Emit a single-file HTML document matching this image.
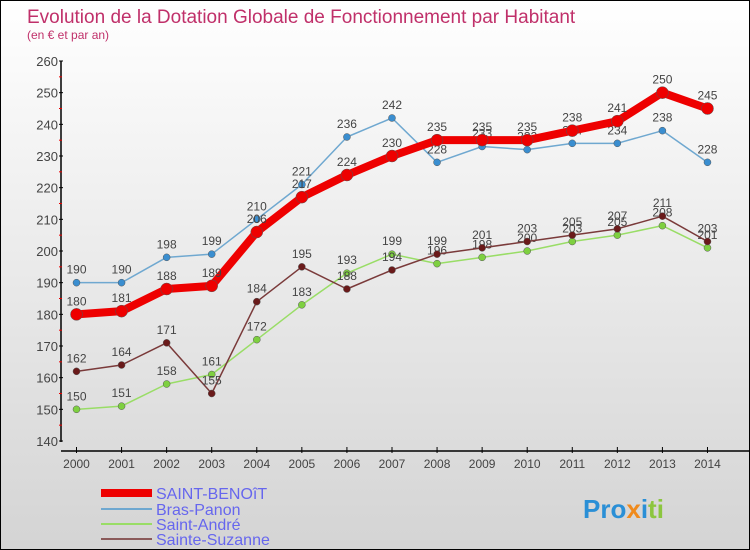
<!DOCTYPE html>
<html><head><meta charset="utf-8"><style>
body{margin:0;}
#c{width:750px;height:550px;position:relative;box-sizing:border-box;border:1px solid #000;background:linear-gradient(#ffffff,#d4d4d4);font-family:"Liberation Sans",sans-serif;overflow:hidden}
</style></head><body>
<div id="c">
<svg width="748" height="548" xmlns="http://www.w3.org/2000/svg" style="position:absolute;left:0;top:0">
<text x="26" y="22" font-size="19" fill="#c0306a">Evolution de la Dotation Globale de Fonctionnement par Habitant</text>
<text x="26" y="38" font-size="12" fill="#c0306a">(en € et par an)</text>
<g id="axes"></g><g id="series"></g>
<g>
<line x1="100" y1="492" x2="151" y2="492" stroke="#e00" stroke-width="8"/>
<text x="155" y="498" font-size="16" fill="#6666ee">SAINT-BENOîT</text>
<line x1="100" y1="508" x2="151" y2="508" stroke="#6fa8d0" stroke-width="2"/>
<text x="155" y="514" font-size="16" fill="#6666ee">Bras-Panon</text>
<line x1="100" y1="523" x2="151" y2="523" stroke="#99dd66" stroke-width="2"/>
<text x="155" y="529" font-size="16" fill="#6666ee">Saint-André</text>
<line x1="100" y1="538" x2="151" y2="538" stroke="#8a5a5a" stroke-width="2"/>
<text x="155" y="544" font-size="16" fill="#6666ee">Sainte-Suzanne</text>
</g>
<text x="582" y="517" font-size="26" font-weight="bold"><tspan fill="#2a8fd6">Pro</tspan><tspan fill="#f08a1c">x</tspan><tspan fill="#2a8fd6">i</tspan><tspan fill="#8cc63f">ti</tspan></text>
</svg>
</div>
<script>
const years=[2000,2001,2002,2003,2004,2005,2006,2007,2008,2009,2010,2011,2012,2013,2014];
const saintBenoit=[180,181,188,189,206,217,224,230,235,235,235,238,241,250,245];
const brasPanon=[190,190,198,199,210,221,236,242,228,233,232,234,234,238,228];
const saintAndre=[150,151,158,161,172,183,193,199,196,198,200,203,205,208,201];
const sainteSuzanne=[162,164,171,155,184,195,188,194,199,201,203,205,207,211,203];
const yTicks=[140,150,160,170,180,190,200,210,220,230,240,250,260];
const NS="http://www.w3.org/2000/svg";
const x=i=>75.5+i*45.07;
const y=v=>440-(v-140)*(380/120);
function mk(tag,attrs,parent,txt){const e=document.createElementNS(NS,tag);for(const k in attrs)e.setAttribute(k,attrs[k]);if(txt!==undefined)e.textContent=txt;parent.appendChild(e);return e;}
const ax=document.getElementById('axes');
let e=mk('line',{x1:60,y1:60,x2:60,y2:441,stroke:'#000','stroke-width':1.5},ax);

e=mk('line',{x1:60,y1:450,x2:748,y2:450,stroke:'#000','stroke-width':1.5},ax);

yTicks.forEach((t,i)=>{
 mk('line',{x1:58,y1:y(t),x2:62,y2:y(t),stroke:'#000'},ax);
 if(i<yTicks.length-1)mk('line',{x1:58,y1:y(t+5),x2:61,y2:y(t+5),stroke:'#e00'},ax);
 e=mk('text',{x:57,y:y(t)+5,'font-size':13,fill:'#444','text-anchor':'end'},ax,t);
 
});
years.forEach((yr,i)=>{
 mk('line',{x1:x(i),y1:446,x2:x(i),y2:452,stroke:'#000'},ax);
 e=mk('text',{x:x(i),y:467,'font-size':12,fill:'#444','text-anchor':'middle'},ax,yr);
 
});
const sg=document.getElementById('series');
function draw(vals,color,dot,w,r,name){
 const g=mk('g',{},sg);
 
 const p=mk('polyline',{points:vals.map((v,i)=>x(i)+','+y(v)).join(' '),fill:'none',stroke:color,'stroke-width':w,'stroke-linejoin':'round'},g);
 
 vals.forEach((v,i)=>{
  const c=mk('circle',{cx:x(i),cy:y(v),r:r,fill:dot,stroke:'#555','stroke-width':0.5},g);
  
  const t=mk('text',{x:x(i),y:y(v)-9,'font-size':12,fill:'#444','text-anchor':'middle'},g,v);
  
 });
}
draw(brasPanon,'#6fa8d0','#3a8ed0',1.5,3.5,'bras-panon');
draw(saintAndre,'#99dd66','#7ed040',1.5,3.5,'saint-andre');
draw(sainteSuzanne,'#7a3a3a','#6a1a1a',1.5,3.5,'sainte-suzanne');
draw(saintBenoit,'#ee0000','#ee0000',8,6,'saint-benoit');
</script>
</body></html>
